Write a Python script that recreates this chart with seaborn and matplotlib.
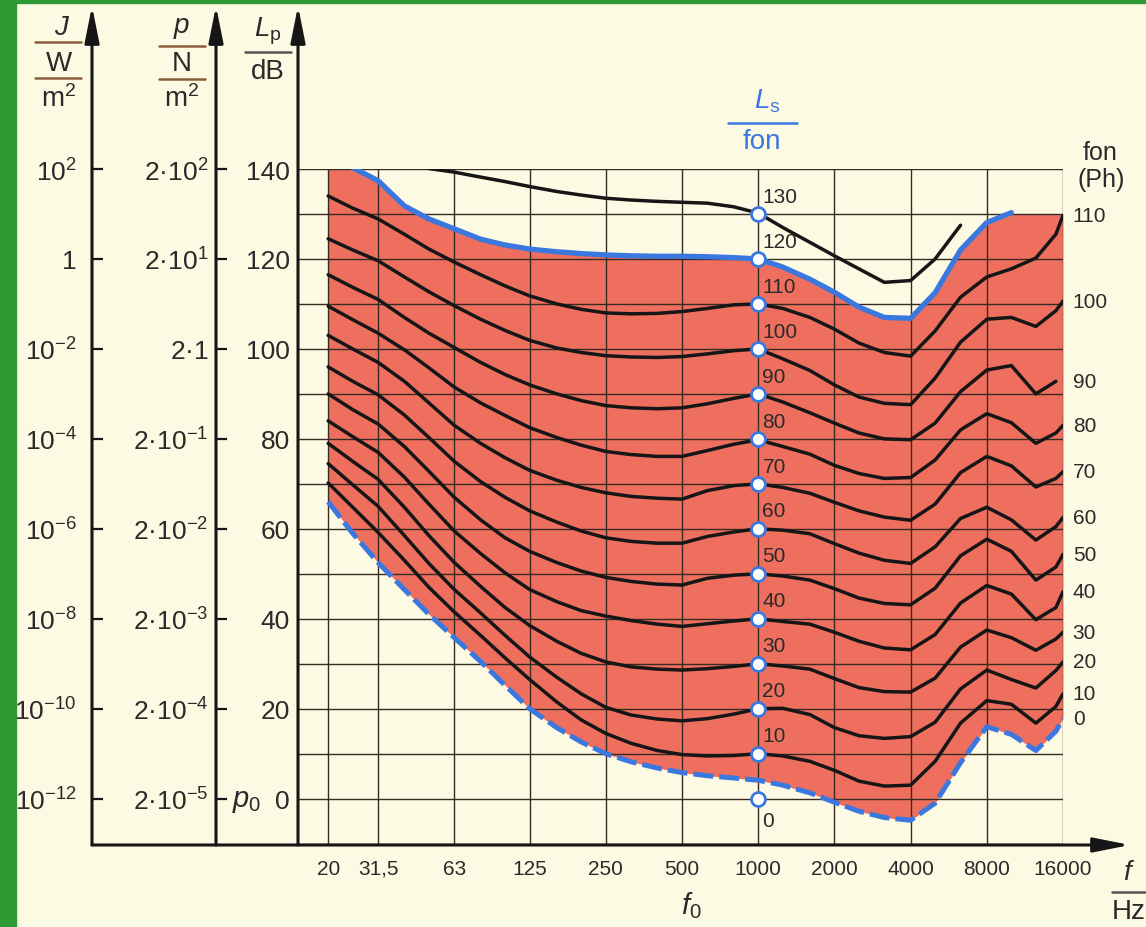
import matplotlib
matplotlib.use("Agg")
import matplotlib.pyplot as plt
from matplotlib.lines import Line2D
from matplotlib.patches import Rectangle
from matplotlib.ticker import NullLocator
import pandas as pd
import seaborn as sns

sns.set_theme(style="white")
plt.rcParams["font.family"] = ["Liberation Sans", "DejaVu Sans"]
plt.rcParams["mathtext.fontset"] = "custom"
plt.rcParams["mathtext.rm"] = "Liberation Sans"
plt.rcParams["mathtext.it"] = "Liberation Sans:italic"
plt.rcParams["mathtext.bf"] = "Liberation Sans:bold"

# ---------------- DATA ----------------
N = None
freq = [20, 25, 31.5, 40, 50, 63, 80, 100, 125, 160, 200, 250, 315, 400, 500, 630, 800,
        1000, 1250, 1600, 2000, 2500, 3150, 4000, 5000, 6300, 8000, 10000, 12500, 15000, 16000]

# hearing threshold (0 phon, dashed)
ph0 = [66, 59, 52.5, 46.5, 41, 35.8, 30.5, 25.2, 20, 15.8, 12.6, 10, 8.2, 6.8, 5.8, 5.1, 4.6,
       4.1, 3, 1.3, -0.8, -2.8, -4.2, -4.8, -1, 8, 16, 14.3, 10.7, 15, 17.8]
ph10 = [70.2, 64.8, 59.2, 53, 47, 41.5, 36.3, 31.3, 26.5, 21.5, 17.5, 14.5, 12.3, 10.7, 9.8, 9.5, 9.6,
        10, 9.5, 8.3, 6.3, 3.9, 2.8, 3, 8.3, 16.8, 21.8, 21, 16.8, 20.5, 23.3]
ph20 = [74.5, 69.8, 65, 58.5, 52.3, 46.5, 41.3, 36.3, 31.5, 27, 23.3, 20.3, 18.6, 17.7, 17.3, 17.8, 18.8,
        20, 20.1, 18.7, 15.8, 14, 13.4, 13.8, 17, 24.4, 28.6, 26.5, 24.6, 28.5, 30.4]
ph30 = [79, 75, 71, 64.8, 58.5, 52.5, 47.2, 42.5, 38.5, 35, 32.3, 30.4, 29.3, 28.8, 28.6, 28.9, 29.4,
        30, 29.5, 28.8, 26.7, 24.7, 23.8, 23.7, 26.8, 33.7, 37.5, 35.8, 33, 35.5, 37]
ph40 = [84, 80.5, 77, 71.5, 65.5, 59.5, 54.5, 50.2, 46.5, 43.8, 41.8, 40.6, 39.6, 38.8, 38.3, 38.9, 39.5,
        40, 39.4, 38.8, 37, 35, 33.5, 33.1, 36.5, 43.5, 47.4, 45.5, 39.8, 42.5, 46]
ph50 = [90, 86.5, 83.3, 78.3, 72.8, 67, 62, 58, 55, 52.5, 50.6, 49.2, 48.3, 47.7, 47.5, 49, 49.7,
        50, 49.5, 48.6, 46.7, 44.6, 43.4, 43.1, 46.8, 54, 57.7, 55, 48.6, 51.5, 54.3]
ph60 = [96, 92.8, 89.8, 85.3, 80.3, 75, 70.5, 67, 64, 61.5, 59.5, 58, 57.2, 56.8, 56.8, 58.3, 59.3,
        60, 59.7, 58.9, 56.7, 54.6, 53, 52.3, 56, 62.3, 64.8, 62, 57.5, 60.5, 62.5]
ph70 = [103, 100, 97, 92.8, 88, 83, 79, 75.8, 73, 70.8, 69.2, 68, 67.2, 66.8, 66.6, 68.5, 69.6,
        70, 69.2, 67.9, 65.9, 64, 62.6, 61.9, 65.5, 72.5, 76.1, 74, 69.3, 71.2, 72.7]
ph80 = [109.5, 106.5, 103.5, 99.8, 95.8, 91.5, 88, 85.2, 82.5, 80.3, 78.6, 77.2, 76.5, 76.1, 76.1, 77.4, 78.8,
        79.8, 78.3, 76.6, 74.1, 72.3, 71.2, 71.4, 75.3, 82, 85.6, 83.6, 79, 81.3, 83]
ph90 = [116.5, 113.7, 111, 107, 103.5, 100.3, 97, 94.3, 92, 90, 88.5, 87.4, 86.9, 86.7, 86.9, 87.8, 89,
        90, 88.2, 85.8, 83.5, 81.3, 80, 79.8, 83.5, 90.5, 95.3, 96.3, 90, 92.8, N]
ph100 = [124.5, 122, 119.6, 116, 112.7, 109.6, 106.6, 104.1, 101.9, 100.2, 99.2, 98.5, 98.2, 98.1, 98.3, 98.9, 99.6,
         100, 97.8, 95.2, 92, 89.3, 87.9, 87.6, 93.5, 101.5, 106.6, 107, 105, 108.5, 110.6]
ph110 = [134, 131.3, 128.9, 125.5, 122.2, 119.3, 116.5, 114, 111.8, 110, 108.8, 108, 107.8, 107.9, 108.3, 109, 109.8,
         110, 109, 107, 104.4, 101.3, 99.2, 98.4, 104, 111.5, 116, 117.8, 120.2, 125.5, 129.7]
# 120 phon = threshold of pain (blue)
ph120 = [N, 140.3, 137.4, 131.8, 128.9, 126.7, 124.4, 123.1, 122.2, 121.6, 121.2, 120.9, 120.7, 120.6, 120.6, 120.5, 120.3,
         120, 118.2, 115.5, 112.6, 109.3, 107, 106.8, 112.5, 122, 128.1, 130.3, N, N, N]
ph130 = [N, N, N, N, 140.1, 139.3, 138.2, 137.2, 136.1, 135, 134.2, 133.5, 133.1, 132.8, 132.6, 132.4, 131.6,
         130.2, 127, 123.7, 120.7, 117.8, 114.8, 115.2, 120, 127.5, N, N, N, N, N]
# upper edge of the red area
upper_edge = [140, 140, 137.4, 131.8, 128.9, 126.7, 124.4, 123.1, 122.2, 121.6, 121.2, 120.9, 120.7, 120.6, 120.6, 120.5, 120.3,
              120, 118.2, 115.5, 112.6, 109.3, 107, 106.8, 112.5, 122, 128.1, 130, 130, 130, 130]

marker_levels = [0, 10, 20, 30, 40, 50, 60, 70, 80, 90, 100, 110, 120, 130]
right_labels = [0, 10, 20, 30, 40, 50, 60, 70, 80, 90, 100, 110]

xtick_freqs = [20, 31.5, 63, 125, 250, 500, 1000, 2000, 4000, 8000, 16000]
xtick_labels = ["20", "31,5", "63", "125", "250", "500", "1000", "2000", "4000", "8000", "16000"]
lp_ticks = [0, 20, 40, 60, 80, 100, 120, 140]
lp_labels = ["0", "20", "40", "60", "80", "100", "120", "140"]
j_labels = ["$10^{-12}$", "$10^{-10}$", "$10^{-8}$", "$10^{-6}$", "$10^{-4}$", "$10^{-2}$", "$1$", "$10^{2}$"]
p_labels = ["$2·10^{-5}$", "$2·10^{-4}$", "$2·10^{-3}$", "$2·10^{-2}$", "$2·10^{-1}$", "$2·1$", "$2·10^{1}$", "$2·10^{2}$"]

# ---------------- STYLE ----------------
BG = "#fdfae3"
RED = "#ef6f5f"
BLUE = "#3a78e0"
INK = "#161616"
GRID = "#352b22"
TXT = "#2a2a2a"
W, H = 1146, 928

curves = {10: ph10, 20: ph20, 30: ph30, 40: ph40, 50: ph50, 60: ph60, 70: ph70,
          80: ph80, 90: ph90, 100: ph100, 110: ph110, 130: ph130}
rows = []
for p, vals in curves.items():
    for f, v in zip(freq, vals):
        if v is not None:
            rows.append((p, f, v))
df = pd.DataFrame(rows, columns=["phon", "freq", "level"])
pain = pd.DataFrame([(f, v) for f, v in zip(freq, ph120) if v is not None], columns=["freq", "level"])

fig = plt.figure(figsize=(W / 100, H / 100), dpi=100, facecolor=BG)
ax = fig.add_axes([298 / W, (H - 846) / H, 765 / W, 676 / H])
ax.set_facecolor(BG)
ax.set_xscale("log")
ax.set_xlim(15.2, 16000)
ax.set_ylim(-10.3, 140)
ax.set_axisbelow("line")

ax.fill_between(freq, ph0, upper_edge, color=RED, lw=0, zorder=1)
sns.lineplot(data=df, x="freq", y="level", units="phon", estimator=None, sort=False,
             color=INK, lw=2.5, ax=ax, zorder=2, solid_joinstyle="round", solid_capstyle="round")
sns.lineplot(data=pain, x="freq", y="level", color=BLUE, lw=3.8, ax=ax, zorder=3,
             solid_joinstyle="round")
sns.lineplot(x=freq, y=ph0, color=BLUE, lw=3.6, linestyle=(0, (4, 1.2)), ax=ax, zorder=3,
             dash_joinstyle="round")
sns.scatterplot(x=[1000] * len(marker_levels), y=marker_levels, s=100, color="white",
                edgecolor=BLUE, linewidth=2, zorder=5, ax=ax, legend=False)

# ---------------- AXES ----------------
ax.set_xticks(xtick_freqs, labels=xtick_labels)
ax.xaxis.set_minor_locator(NullLocator())
ax.set_yticks(lp_ticks, labels=lp_labels)
ax.set_yticks(list(range(-10, 140, 20)), minor=True)
ax.tick_params(axis="x", length=0, pad=10, labelsize=15, labelcolor=TXT)
ax.tick_params(axis="y", which="both", length=0, pad=6, labelsize=19, labelcolor=TXT)
ax.grid(True, which="both", color=GRID, lw=1.0)
ax.set_xlabel("")
ax.set_ylabel("")
for s in ax.spines.values():
    s.set_visible(False)

xJ = (92 - 298) / 765
xP = (216 - 298) / 765
for loc, labels, pad in [(xJ, j_labels, 11), (xP, p_labels, 5.5)]:
    sec = ax.secondary_yaxis(loc)
    sec.set_ticks(lp_ticks, labels=labels)
    sec.tick_params(direction="in", length=8, width=1.6, pad=pad, labelsize=19,
                    colors=INK, labelcolor=TXT)
    for s in sec.spines.values():
        s.set_visible(False)

arrow = dict(arrowstyle="-|>,head_length=1.1,head_width=0.22", lw=2.2, color=INK,
             mutation_scale=20, shrinkA=0, shrinkB=0)
tip_y = (846 - 7) / 676
for xf in [xJ, xP, 0]:
    ax.annotate("", xy=(xf, tip_y), xytext=(xf, 0), xycoords="axes fraction",
                textcoords="axes fraction", arrowprops=arrow)
ax.annotate("", xy=((1130 - 298) / 765, 0), xytext=(xJ, 0), xycoords="axes fraction",
            textcoords="axes fraction", arrowprops=arrow)

# phon numbers at 1000 Hz
for p in marker_levels:
    if p == 0:
        ax.annotate("0", xy=(1000, p), xytext=(3, -9), textcoords="offset points",
                    ha="left", va="top", fontsize=15, color=TXT)
    else:
        ax.annotate(str(p), xy=(1000, p), xytext=(3, 6), textcoords="offset points",
                    ha="left", va="bottom", fontsize=15, color=TXT)

# phon numbers at the right end of each curve
all_curves = {0: ph0, **curves}
for p in right_labels:
    end = [v for v in all_curves[p] if v is not None][-1]
    ax.annotate(str(p), xy=(16000, end), xytext=(7, 0), textcoords="offset points",
                ha="left", va="center", fontsize=15, color=TXT)


# ---------------- HEADERS ----------------
def fx(x):
    return x / W


def fy(y):
    return 1 - y / H


def frac_line(x0, x1, y, color):
    fig.add_artist(Line2D([fx(x0), fx(x1)], [fy(y), fy(y)], transform=fig.transFigure,
                          color=color, lw=1.8))


HDR = 20
fig.text(fx(62), fy(28), "$J$", ha="center", va="center", fontsize=HDR, color=TXT)
frac_line(35, 81, 43, "#8b5e3c")
fig.text(fx(59), fy(64), "W", ha="center", va="center", fontsize=HDR, color=TXT)
frac_line(35, 81, 79, "#8b5e3c")
fig.text(fx(59), fy(99), r"$\mathrm{m}^2$", ha="center", va="center", fontsize=HDR, color=TXT)

fig.text(fx(182), fy(28), "$p$", ha="center", va="center", fontsize=HDR, color=TXT)
frac_line(159, 205, 47, "#8b5e3c")
fig.text(fx(182), fy(64), "N", ha="center", va="center", fontsize=HDR, color=TXT)
frac_line(159, 205, 80, "#8b5e3c")
fig.text(fx(182), fy(99), r"$\mathrm{m}^2$", ha="center", va="center", fontsize=HDR, color=TXT)

fig.text(fx(268), fy(31), r"$L_\mathrm{p}$", ha="center", va="center", fontsize=HDR, color=TXT)
frac_line(245, 291, 53, "#555555")
fig.text(fx(268), fy(72), "dB", ha="center", va="center", fontsize=HDR, color=TXT)

fig.text(fx(247), fy(801), "$p_0$", ha="center", va="center", fontsize=21, color=TXT)

fig.text(fx(767), fy(101), r"$L_\mathrm{s}$", ha="center", va="center", fontsize=HDR, color=BLUE)
frac_line(728, 797, 124, BLUE)
fig.text(fx(762), fy(142), "fon", ha="center", va="center", fontsize=HDR, color=BLUE)

fig.text(fx(1100), fy(153), "fon", ha="center", va="center", fontsize=18, color=TXT)
fig.text(fx(1101), fy(180), "(Ph)", ha="center", va="center", fontsize=18, color=TXT)

fig.text(fx(691), fy(906), "$f_0$", ha="center", va="center", fontsize=21, color=TXT)
fig.text(fx(1129), fy(873), "$f$", ha="center", va="center", fontsize=HDR, color=TXT)
frac_line(1112, 1145, 893, "#555555")
fig.text(fx(1129), fy(912), "Hz", ha="center", va="center", fontsize=HDR, color=TXT)

# green page border
fig.add_artist(Rectangle((0, 0), 16 / W, 1, transform=fig.transFigure, color="#2f9a34", zorder=10))
fig.add_artist(Rectangle((0, 1 - 4 / H), 1, 4 / H, transform=fig.transFigure, color="#2f9a34", zorder=10))

fig.savefig("out.png", dpi=100, facecolor=BG)
